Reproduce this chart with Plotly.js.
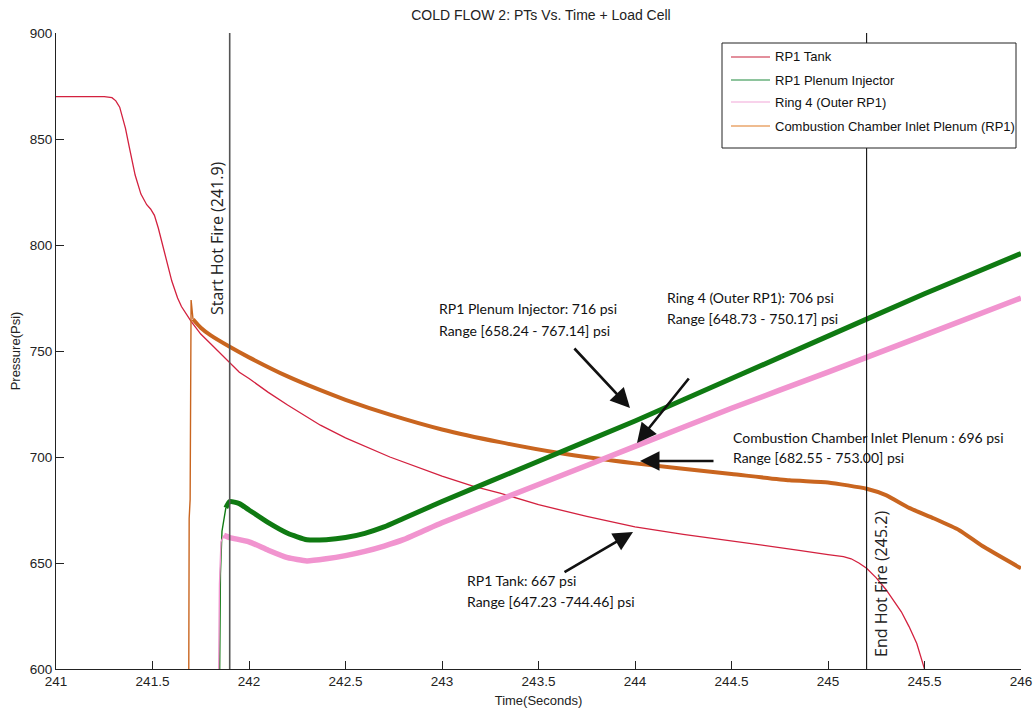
<!DOCTYPE html>
<html>
<head>
<meta charset="utf-8">
<script src="https://cdn.plot.ly/plotly-3.0.1.min.js"></script>
<style>html,body{margin:0;padding:0;background:#fff;}#chart{width:1036px;height:717px;}</style>
</head>
<body>
<div id="chart"></div>
<script>
// ---- Data ----
const chartTitle = "COLD FLOW 2: PTs Vs. Time + Load Cell";
const xTitle = "Time(Seconds)";
const yTitle = "Pressure(Psi)";

const seriesNames = ["RP1 Tank", "RP1 Plenum Injector", "Ring 4 (Outer RP1)", "Combustion Chamber Inlet Plenum (RP1)"];

// RP1 Tank
const tankT = [241.0, 241.25, 241.29, 241.31, 241.33, 241.36, 241.38, 241.41, 241.44, 241.47, 241.49, 241.51, 241.53, 241.55, 241.58, 241.6, 241.63, 241.65, 241.7, 241.75, 241.8, 241.85, 241.9, 241.95, 242.0, 242.1, 242.2, 242.37, 242.5, 242.73, 243.0, 243.16, 243.3, 243.5, 243.75, 244.0, 244.25, 244.5, 244.65, 244.85, 245.0, 245.08, 245.12, 245.16, 245.2, 245.25, 245.3, 245.34, 245.38, 245.42, 245.46, 245.49, 245.52];
const tankV = [870, 870, 869.5, 868, 865, 855, 846, 833, 824, 819, 817, 814, 808, 801, 790, 783, 775, 771, 764, 758, 753.5, 749, 744.5, 740, 737, 730.5, 724.5, 715, 709, 700, 691, 686.3, 683, 677.5, 672, 667, 663.5, 660.5, 658.5, 656, 654, 653, 652, 650, 647.5, 643, 637.5, 632.5, 627, 620, 612, 603, 594];

// RP1 Plenum Injector
const pinjT = [241.848, 241.852, 241.86, 241.88, 241.9, 241.95, 242.0, 242.1, 242.2, 242.3, 242.4, 242.5, 242.6, 242.7, 242.8, 242.9, 243.0, 243.5, 244.0, 244.5, 245.0, 245.5, 246.0];
const pinjV = [600, 645, 665, 676, 679, 678, 675, 669, 664, 661, 661, 662, 664, 667, 671, 675, 679, 698, 717, 737, 757, 777, 796];

// Ring 4 (Outer RP1)
const ring4T = [241.843, 241.847, 241.855, 241.87, 241.9, 242.0, 242.1, 242.2, 242.3, 242.4, 242.5, 242.6, 242.7, 242.8, 242.9, 243.0, 243.5, 244.0, 244.5, 245.0, 245.5, 246.0];
const ring4V = [600, 640, 660, 663, 662, 660, 656, 652.5, 651, 652, 653.5, 655.5, 658, 661, 665, 669, 687, 705, 723, 740, 757.5, 775];

// Combustion Chamber Inlet Plenum (RP1)
const ccipT = [241.688, 241.69, 241.695, 241.70, 241.71, 241.75, 241.8, 241.9, 242.0, 242.2, 242.37, 242.5, 242.73, 243.0, 243.3, 243.6, 244.0, 244.5, 244.8, 245.0, 245.2, 245.3, 245.42, 245.55, 245.68, 245.8, 246.0];
const ccipV = [600, 671, 680, 774, 765, 761, 757.5, 752, 747, 738, 731.5, 727, 720, 713, 707, 702, 697, 692, 689, 688, 685, 682, 676, 671, 665.5, 658, 647.5];

// Hot fire event markers
const eventTimes = [241.9, 245.2];
const eventLabels = ["Start Hot Fire (241.9)", "End Hot Fire (245.2)"];

// Callout texts
const calloutInj = ["RP1 Plenum Injector: 716 psi", "Range [658.24 - 767.14] psi"];
const calloutRing = ["Ring 4 (Outer RP1): 706 psi", "Range [648.73 - 750.17] psi"];
const calloutCcip = ["Combustion Chamber Inlet Plenum : 696 psi", "Range [682.55 - 753.00] psi"];
const calloutTank = ["RP1 Tank: 667 psi", "Range [647.23 -744.46] psi"];

const xTicks = [241, 241.5, 242, 242.5, 243, 243.5, 244, 244.5, 245, 245.5, 246];
const yTicks = [600, 650, 700, 750, 800, 850, 900];

// ---- Styling / drawing ----
const colors = ["#d3213f", "#0f7a12", "#f194cf", "#c9651f"];
const legendColors = ["#c8203a", "#1f8a3c", "#f2a6d8", "#e07b22"];

const W = 1036, H = 717;
const M = {l: 56, r: 15, t: 33, b: 48};
const X0 = 241, X1 = 246, Y0 = 600, Y1 = 900;
const PW = W - M.l - M.r, PH = H - M.t - M.b;
// pixel -> data / paper helpers (for placing text only)
const px2x = px => X0 + (px - M.l) / PW * (X1 - X0);
const py2y = py => Y1 - (py - M.t) / PH * (Y1 - Y0);
const px2p = px => (px - M.l) / PW;
const py2p = py => 1 - (py - M.t) / PH;

const FONT = "Liberation Sans, Arial, sans-serif";
const CALLOUT_FONT = "Lato, Open Sans, sans-serif";

const traces = [
  {x: tankT, y: tankV, mode: "lines", line: {color: colors[0], width: 1.3}, name: seriesNames[0]},
  // start-up rises (thin)
  {x: ccipT.slice(0, 5), y: ccipV.slice(0, 5), mode: "lines", line: {color: colors[3], width: 1.4}},
  {x: pinjT.slice(0, 4), y: pinjV.slice(0, 4), mode: "lines", line: {color: colors[1], width: 1.4}},
  {x: ring4T.slice(0, 4), y: ring4V.slice(0, 4), mode: "lines", line: {color: colors[2], width: 1.4}},
  // oscillating bands (thick)
  {x: ccipT.slice(4), y: ccipV.slice(4), mode: "lines", line: {color: colors[3], width: 4, shape: "spline", smoothing: 0.5}, name: seriesNames[3]},
  {x: ring4T.slice(3), y: ring4V.slice(3), mode: "lines", line: {color: colors[2], width: 5.5, shape: "spline", smoothing: 0.5}, name: seriesNames[2]},
  {x: pinjT.slice(3), y: pinjV.slice(3), mode: "lines", line: {color: colors[1], width: 5, shape: "spline", smoothing: 0.5}, name: seriesNames[1]}
];

const shapes = [];
eventTimes.forEach((t, i) => {
  shapes.push({type: "line", xref: "x", yref: "paper", x0: t, x1: t, y0: 0, y1: 1,
    line: {color: i === 0 ? "#555" : "#111", width: i === 0 ? 1.6 : 1.1}});
});

// manual legend box
const LG = {x0: 722, x1: 1016, y0: 43, y1: 148};
shapes.push({type: "rect", xref: "paper", yref: "paper",
  x0: px2p(LG.x0), x1: px2p(LG.x1), y0: py2p(LG.y1), y1: py2p(LG.y0),
  fillcolor: "#fff", line: {color: "#222", width: 1}, layer: "above"});
const legendRows = [57, 80, 102, 126];
const annotations = [];
seriesNames.forEach((n, i) => {
  const yy = py2p(legendRows[i]);
  shapes.push({type: "line", xref: "paper", yref: "paper",
    x0: px2p(731), x1: px2p(770), y0: yy, y1: yy,
    line: {color: legendColors[i], width: 1.2}, layer: "above"});
  annotations.push({xref: "paper", yref: "paper", x: px2p(773), y: yy,
    xanchor: "left", yanchor: "middle", showarrow: false, text: n,
    font: {family: FONT, size: 13, color: "#111"}});
});

// event labels (rotated)
annotations.push({x: px2x(217), y: py2y(238), xref: "x", yref: "y", text: eventLabels[0], textangle: -90,
  showarrow: false, font: {family: "Open Sans, sans-serif", size: 16, color: "#222"}});
annotations.push({x: px2x(881), y: py2y(584), xref: "x", yref: "y", text: eventLabels[1], textangle: -90,
  showarrow: false, font: {family: "Open Sans, sans-serif", size: 16, color: "#222"}});

// callout texts
function addLines(lines, left, tops) {
  lines.forEach((s, i) => annotations.push({x: px2x(left), y: py2y(tops[i]), xref: "x", yref: "y",
    xanchor: "left", yanchor: "middle", showarrow: false, text: s,
    font: {family: CALLOUT_FONT, size: 14, color: "#111"}}));
}
addLines(calloutInj, 437, [308, 330]);
addLines(calloutRing, 665, [297, 318]);
addLines(calloutCcip, 731, [437, 457]);
addLines(calloutTank, 465, [580, 601]);

// arrows (tip position, tail offset in px)
function addArrow(tipPx, tipPy, tailPx, tailPy) {
  annotations.push({x: px2x(tipPx), y: py2y(tipPy), xref: "x", yref: "y", text: "",
    showarrow: true, arrowhead: 2, arrowsize: 1.5, arrowwidth: 2.6, arrowcolor: "#111",
    ax: tailPx - tipPx, ay: tailPy - tipPy, standoff: 0});
}
addArrow(630, 408, 573, 347);
addArrow(637, 443, 690, 377);
addArrow(640, 461, 715, 461);
addArrow(633, 532, 563, 573);

const axisCommon = {showgrid: false, zeroline: false, showline: true, linecolor: "#222", linewidth: 1,
  ticks: "inside", ticklen: 8, tickcolor: "#222", mirror: false,
  tickfont: {family: FONT, size: 13.5, color: "#222"}};

const layout = {
  width: W, height: H,
  margin: M,
  paper_bgcolor: "#fff", plot_bgcolor: "#fff",
  showlegend: false,
  title: {text: chartTitle, xref: "container", yref: "container", x: 541 / W, y: 1 - 15 / H,
    xanchor: "center", yanchor: "middle", font: {family: FONT, size: 14, color: "#222"}},
  xaxis: Object.assign({}, axisCommon, {range: [X0, X1], tickvals: xTicks, ticktext: xTicks.map(String),
    title: {text: xTitle, standoff: 7, font: {family: FONT, size: 13, color: "#222"}}}),
  yaxis: Object.assign({}, axisCommon, {range: [Y0, Y1], tickvals: yTicks, ticktext: yTicks.map(String),
    title: {text: yTitle, standoff: 6, font: {family: FONT, size: 13, color: "#222"}}}),
  shapes: shapes,
  annotations: annotations
};

Plotly.newPlot("chart", traces, layout, {staticPlot: true, displayModeBar: false});
</script>
</body>
</html>
